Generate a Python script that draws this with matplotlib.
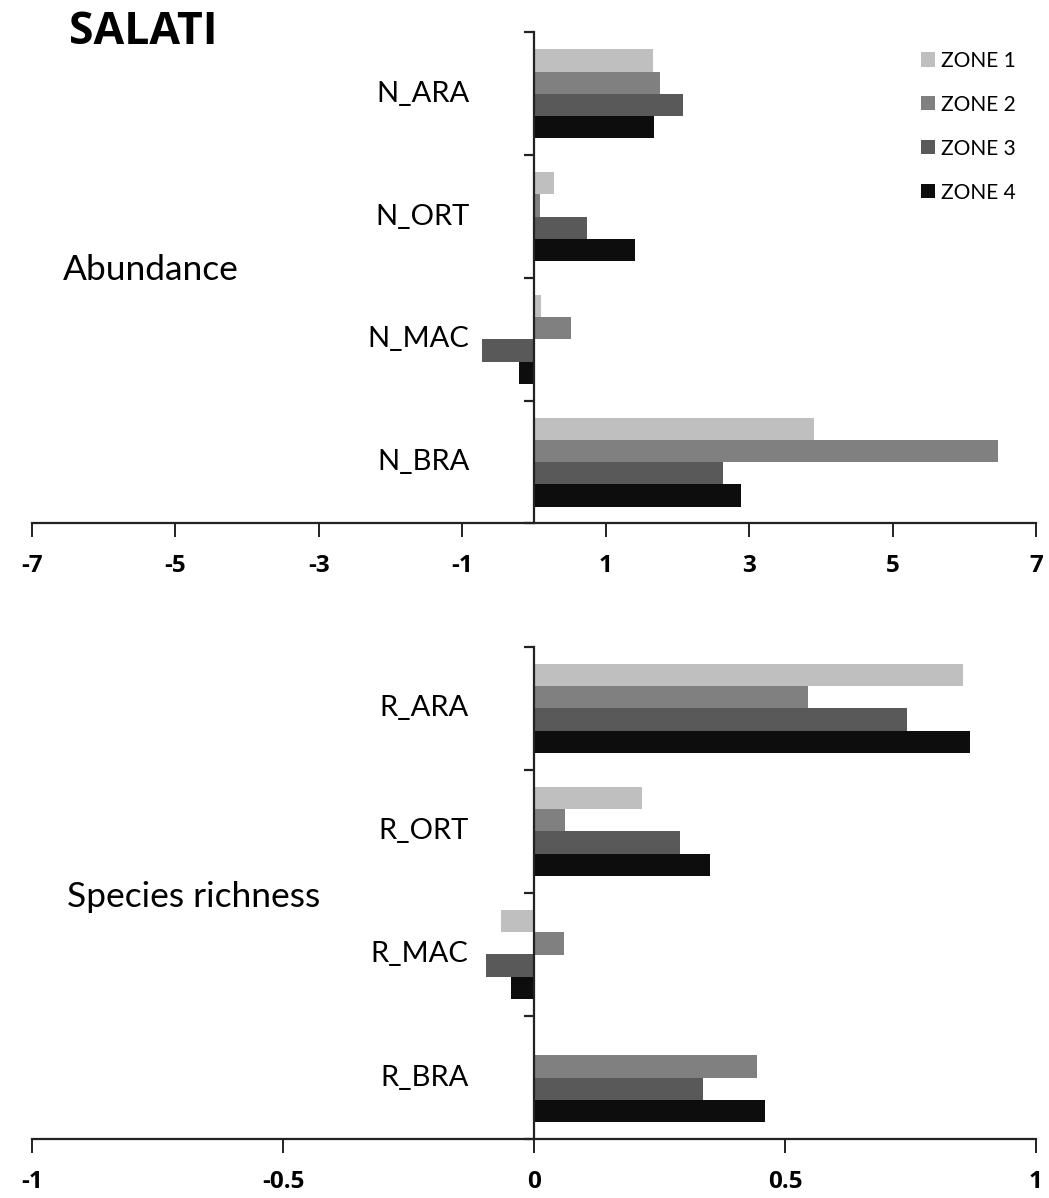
import numpy as np
import matplotlib
matplotlib.use('Agg')
import matplotlib.pyplot as plt
from matplotlib.patches import Patch

# categories, top to bottom
abund_cats = ['N_ARA', 'N_ORT', 'N_MAC', 'N_BRA']
rich_cats = ['R_ARA', 'R_ORT', 'R_MAC', 'R_BRA']
zones = ['ZONE 1', 'ZONE 2', 'ZONE 3', 'ZONE 4']
colors = ['#bfbfbf', '#808080', '#595959', '#0d0d0d']

# values per zone, in category order (ARA, ORT, MAC, BRA)
abund = {
    'ZONE 1': [1.66, 0.28, 0.10, 3.90],
    'ZONE 2': [1.76, 0.09, 0.51, 6.47],
    'ZONE 3': [2.08, 0.74, -0.73, 2.64],
    'ZONE 4': [1.68, 1.41, -0.21, 2.89],
}
rich = {
    'ZONE 1': [0.854, 0.215, -0.065, 0.0],
    'ZONE 2': [0.545, 0.061, 0.060, 0.445],
    'ZONE 3': [0.743, 0.290, -0.096, 0.336],
    'ZONE 4': [0.869, 0.351, -0.046, 0.461],
}
abund_ticks = [-7, -5, -3, -1, 1, 3, 5, 7]
rich_ticks = [-1, -0.5, 0, 0.5, 1]

W, H = 1049, 1198
fig = plt.figure(figsize=(W / 100, H / 100), dpi=100)
ax1 = fig.add_axes([32 / W, 1 - 523.5 / H, (1036 - 32) / W, 491 / H])
ax2 = fig.add_axes([32 / W, 1 - 1139 / H, (1036 - 32) / W, 492 / H])

lab_font = ['Lato', 'DejaVu Sans']
bold_font = ['Open Sans', 'DejaVu Sans']


def panel(ax, cats, data, xlim, xticks, ticklabels, label_x):
    n = len(cats)
    centers = np.arange(n)[::-1]  # first category at top
    h = 0.181
    for i, z in enumerate(zones):
        ypos = centers + (1.5 - i) * h
        ax.barh(ypos, data[z], height=h, color=colors[i], edgecolor='none', zorder=2)
    ax.set_xlim(*xlim)
    ax.set_ylim(-0.5, n - 0.5)
    for s in ['top', 'right']:
        ax.spines[s].set_visible(False)
    ax.spines['left'].set_position(('data', 0))
    for s in ['left', 'bottom']:
        ax.spines[s].set_linewidth(1.6)
        ax.spines[s].set_color('#222222')
    ax.spines['left'].set_zorder(3)
    ax.set_yticks(np.arange(n + 1) - 0.5)
    ax.set_yticklabels([])
    ax.tick_params(axis='y', direction='out', length=7, width=1.6, color='#222222')
    ax.set_xticks(xticks)
    ax.set_xticklabels(ticklabels, fontfamily=bold_font, fontweight='bold', fontsize=17.5)
    ax.tick_params(axis='x', direction='out', length=10, width=1.4, pad=12,
                   color='#222222')
    for c, yc in zip(cats, centers):
        ax.text(label_x, yc, c, ha='right', va='center', fontsize=21,
                fontfamily=lab_font)


panel(ax1, abund_cats, abund, (-7, 7), abund_ticks,
      [str(t) for t in abund_ticks], -0.9)
panel(ax2, rich_cats, rich, (-1, 1), rich_ticks,
      ['-1', '-0.5', '0', '0.5', '1'], -0.13)

fig.text(69 / W, 1 - 32 / H, 'SALATI', fontsize=32, fontweight='bold',
         fontfamily=bold_font, va='center', ha='left')
fig.text(63 / W, 1 - 270 / H, 'Abundance', fontsize=25.5, fontfamily=lab_font,
         va='center', ha='left')
fig.text(67 / W, 1 - 897 / H, 'Species richness', fontsize=25.5, fontfamily=lab_font,
         va='center', ha='left')

handles = [Patch(facecolor=c, edgecolor='none') for c in colors]
leg = ax1.legend(handles, zones, loc='upper left', bbox_to_anchor=(902 / W, 1 - 32 / H),
                 bbox_transform=fig.transFigure, frameon=False,
                 prop={'family': lab_font, 'size': 15}, handlelength=0.67,
                 handleheight=0.67, handletextpad=0.3, labelspacing=1.15)

fig.savefig('out.png', dpi=100)
